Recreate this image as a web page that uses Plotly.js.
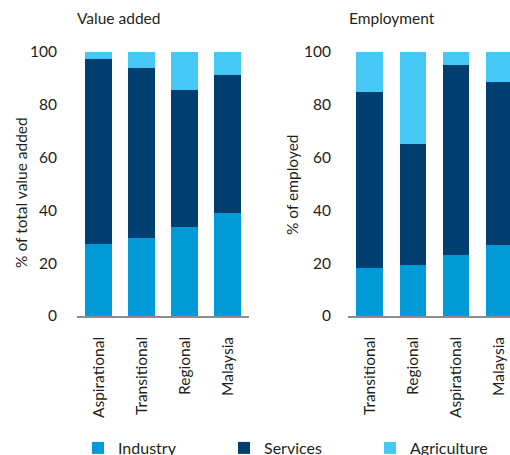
<!DOCTYPE html>
<html>
<head>
<meta charset="utf-8">
<script src="https://cdn.plot.ly/plotly-3.0.1.min.js"></script>
<style>html,body{margin:0;padding:0;background:#fff}#chart{width:510px;height:455px}</style>
</head>
<body>
<div id="chart"></div>
<script>
const vaCategories = ['Aspirational', 'Transitional', 'Regional', 'Malaysia'];
const vaIndustry = [27.3, 29.5, 33.7, 39.0];
const vaServices = [70.0, 64.4, 51.9, 52.3];
const vaAgriculture = [2.7, 6.1, 14.4, 8.7];

const empCategories = ['Transitional', 'Regional', 'Aspirational', 'Malaysia'];
const empIndustry = [18.2, 19.3, 23.1, 26.9];
const empServices = [66.6, 45.9, 72.0, 61.7];
const empAgriculture = [15.2, 34.8, 4.9, 11.4];

const seriesNames = ['Industry', 'Services', 'Agriculture'];
const seriesColors = ['#009ad9', '#003f70', '#45c8f5'];

const FONT = 'Lato, "Open Sans", sans-serif';
const TXT = '#231f20';
const FS = 15.5;

const vaData = [vaIndustry, vaServices, vaAgriculture];
const empData = [empIndustry, empServices, empAgriculture];

const traces = [];
seriesNames.forEach((name, i) => {
  traces.push({
    type: 'bar', name: name, x: vaCategories, y: vaData[i],
    marker: {color: seriesColors[i], line: {width: 0}},
    xaxis: 'x', yaxis: 'y', legendgroup: name, showlegend: true,
    hoverinfo: 'x+y+name'
  });
});
seriesNames.forEach((name, i) => {
  traces.push({
    type: 'bar', name: name, x: empCategories, y: empData[i],
    marker: {color: seriesColors[i], line: {width: 0}},
    xaxis: 'x2', yaxis: 'y2', legendgroup: name, showlegend: false,
    hoverinfo: 'x+y+name'
  });
});

const xCommon = {
  type: 'category', tickangle: -90, showline: true, linecolor: '#8c8c8c', linewidth: 1.5,
  ticks: 'outside', ticklen: 13, tickcolor: 'rgba(0,0,0,0)', automargin: false,
  tickfont: {family: FONT, size: FS, color: TXT}, showgrid: false, zeroline: false, fixedrange: true
};
const yCommon = {
  range: [0, 100], tickvals: [0, 20, 40, 60, 80, 100], showgrid: false, zeroline: false,
  showline: false, ticks: 'outside', tickcolor: 'rgba(0,0,0,0)', automargin: false,
  tickfont: {family: FONT, size: FS, color: TXT}, fixedrange: true
};

const layout = {
  width: 510, height: 455,
  margin: {l: 0, r: 0, t: 52, b: 139, pad: 0},
  paper_bgcolor: '#fff', plot_bgcolor: '#fff',
  barmode: 'stack', bargap: 0.395,
  font: {family: FONT, color: TXT},
  xaxis: Object.assign({}, xCommon, {domain: [77 / 510, 249 / 510], anchor: 'y', range: [-0.5, 3.5]}),
  xaxis2: Object.assign({}, xCommon, {domain: [348 / 510, 1], anchor: 'y2', range: [-0.5, 3.267]}),
  yaxis: Object.assign({}, yCommon, {anchor: 'x', ticklen: 16}),
  yaxis2: Object.assign({}, yCommon, {anchor: 'x2', ticklen: 13}),
  showlegend: true,
  legend: {
    orientation: 'h', xref: 'container', yref: 'container',
    x: 78 / 510, xanchor: 'left', y: 1 - 431 / 455, yanchor: 'top',
    font: {family: FONT, size: 16, color: TXT},
    entrywidth: 101, entrywidthmode: 'pixels', traceorder: 'normal', itemclick: false
  },
  annotations: [
    {text: 'Value added', xref: 'paper', yref: 'paper', x: 75 / 510, y: 1.13, xanchor: 'left', yanchor: 'middle',
     showarrow: false, font: {family: FONT, size: FS, color: TXT}},
    {text: 'Employment', xref: 'paper', yref: 'paper', x: 347 / 510, y: 1.13, xanchor: 'left', yanchor: 'middle',
     showarrow: false, font: {family: FONT, size: FS, color: TXT}},
    {text: '% of total value added', xref: 'paper', yref: 'paper', x: 21 / 510, y: 0.466,
     xanchor: 'center', yanchor: 'middle', textangle: -90, showarrow: false,
     font: {family: FONT, size: FS, color: TXT}},
    {text: '% of employed', xref: 'paper', yref: 'paper', x: 292 / 510, y: 0.496,
     xanchor: 'center', yanchor: 'middle', textangle: -90, showarrow: false,
     font: {family: FONT, size: FS, color: TXT}}
  ]
};

Plotly.newPlot('chart', traces, layout, {displayModeBar: false, staticPlot: false, responsive: false});
</script>
</body>
</html>
